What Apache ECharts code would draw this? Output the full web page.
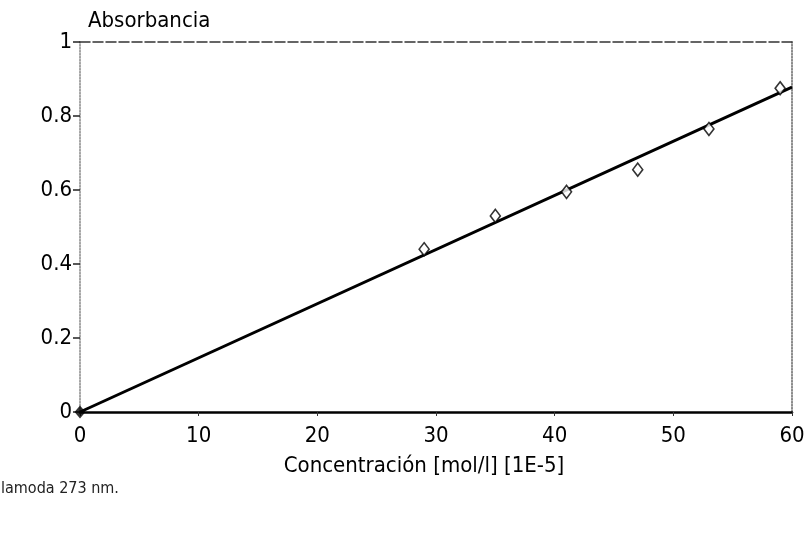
<!DOCTYPE html>
<html>
<head>
<meta charset="utf-8">
<script src="https://cdn.jsdelivr.net/npm/echarts@6/dist/echarts.min.js"></script>
<style>
  html, body { margin: 0; padding: 0; background: #fff; }
  #chart { width: 808px; height: 540px; }
</style>
</head>
<body>
<div id="chart"></div>
<script>
// Calibration data: concentration [mol/l] (x 1E-5) vs absorbance at 273 nm
const concentration = [29, 35, 41, 47, 53, 59];
const absorbance = [0.44, 0.53, 0.595, 0.655, 0.765, 0.875];
// Fitted line through the origin
const fitX = [0, 60];
const fitY = [0, 0.878];
const xTicks = ['0', '10', '20', '30', '40', '50', '60'];
const yTicks = ['0', '0.2', '0.4', '0.6', '0.8', '1'];

const FONT = '"Liberation Sans Narrow", "DejaVu Sans Condensed", sans-serif';

const chart = echarts.init(document.getElementById('chart'), null, { renderer: 'canvas' });

chart.setOption({
  backgroundColor: '#ffffff',
  animation: false,
  grid: { left: 80, right: 16, top: 42, bottom: 128, containLabel: false },
  xAxis: [{
    type: 'value', min: 0, max: 60, interval: 10,
    name: 'Concentración [mol/l] [1E-5]',
    nameLocation: 'middle', nameGap: 43,
    nameTextStyle: { fontFamily: FONT, fontSize: 22, color: '#000', padding: [0, 24, 0, 0] },
    axisLine: { show: true, onZero: false, lineStyle: { color: '#000', width: 2.5 } },
    axisTick: { show: true, inside: false, length: 4, lineStyle: { color: '#333' } },
    axisLabel: {
      fontFamily: FONT, fontSize: 22, color: '#000', margin: 13,
      formatter: (v) => xTicks[Math.round(v / 10)]
    },
    splitLine: { show: false }
  }, {
    type: 'value', min: 0, max: 60, position: 'top',
    axisLine: { show: true, onZero: false, lineStyle: { color: '#333', width: 1.5, type: [10, 3] } },
    axisTick: { show: false }, axisLabel: { show: false }, splitLine: { show: false }
  }],
  yAxis: [{
    type: 'value', min: 0, max: 1, interval: 0.2,
    name: 'Absorbancia',
    nameLocation: 'end', nameGap: 10,
    nameTextStyle: { fontFamily: FONT, fontSize: 22, color: '#000', align: 'left', padding: [0, 0, 0, 8] },
    axisLine: { show: true, onZero: false, lineStyle: { color: '#888', width: 1.5, type: 'dotted' } },
    axisTick: { show: true, inside: false, length: 7, lineStyle: { color: '#222', width: 1.5 } },
    axisLabel: {
      fontFamily: FONT, fontSize: 22, color: '#000', margin: 8,
      formatter: (v) => yTicks[Math.round(v * 5)]
    },
    splitLine: { show: false }
  }, {
    type: 'value', min: 0, max: 1, position: 'right',
    axisLine: { show: true, onZero: false, lineStyle: { color: '#666', width: 1.5, type: 'dotted' } },
    axisTick: { show: false }, axisLabel: { show: false }, splitLine: { show: false }
  }],
  graphic: [{
    type: 'text', left: 1, top: 481,
    style: { text: 'lamoda 273 nm.', font: '16px ' + FONT, fill: '#222' }
  }],
  series: [{
    type: 'line',
    data: fitX.map((x, i) => [x, fitY[i]]),
    showSymbol: false,
    lineStyle: { color: '#000', width: 3 },
    z: 2
  }, {
    type: 'scatter',
    data: [[fitX[0], fitY[0]]],
    symbol: 'diamond', symbolSize: [11, 13],
    itemStyle: { color: '#000' },
    z: 4
  }, {
    type: 'scatter',
    data: concentration.map((x, i) => [x, absorbance[i]]),
    symbol: 'diamond', symbolSize: [10, 13],
    itemStyle: { color: '#fff', borderColor: '#000', borderWidth: 1.6 },
    z: 3
  }]
});
</script>
</body>
</html>
